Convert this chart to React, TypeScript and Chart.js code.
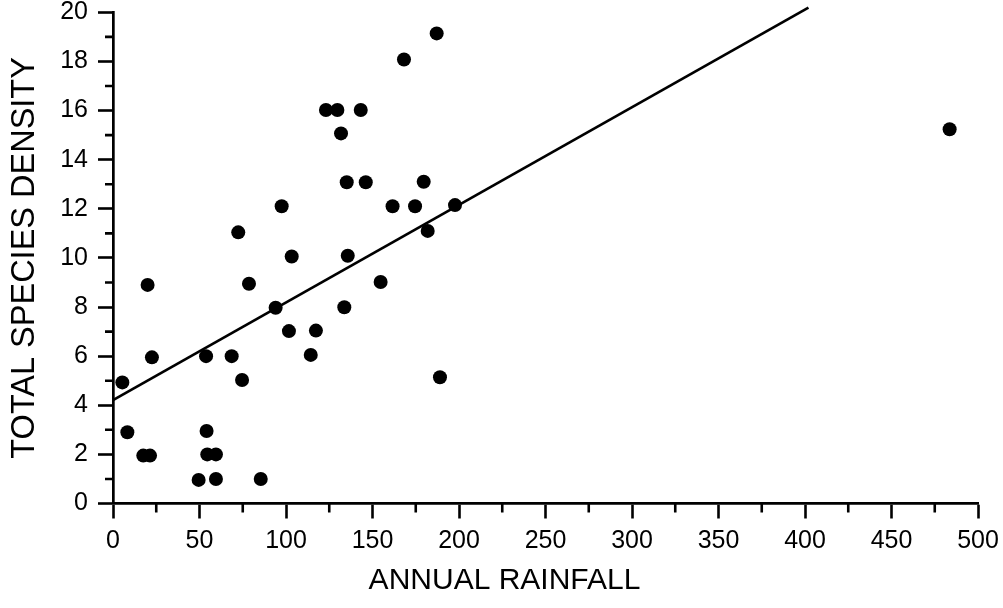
import React, { useEffect, useRef } from "react";
import { Chart, registerables } from "chart.js";

Chart.register(...registerables);

const rainfall = [
  5.4, 8.3, 17.5, 21.4, 20, 22.5, 49.5, 53.8, 54.1, 54.5, 59.5, 59.5, 68.6, 72.4,
  74.6, 78.6, 85.4, 94, 97.5, 101.7, 103.3, 114.3, 117.3, 123.1, 129.7, 131.8,
  133.7, 135.1, 135.7, 143.2, 146.1, 154.7, 161.6, 168.2, 174.6, 179.6, 181.9,
  187.1, 189, 197.7, 483.6,
];
const density = [
  4.93, 2.9, 1.95, 1.95, 8.9, 5.95, 0.96, 6, 2.95, 2, 2, 1, 6, 11.04, 5.03, 8.95,
  1, 7.97, 12.1, 7.02, 10.06, 6.05, 7.04, 16.02, 16.02, 15.07, 7.99, 13.08,
  10.09, 16.02, 13.08, 9.02, 12.1, 18.08, 12.1, 13.1, 11.1, 19.14, 5.14, 12.15,
  15.24,
];
const fitX = [0, 402];
const fitY = [4.21, 20.19];

const xMinorTicks = [25, 75, 125, 175, 225, 275, 325, 375, 425, 475];
const yMinorTicks = [1, 3, 5, 7, 9, 11, 13, 15, 17, 19];

const xTitle = "ANNUAL RAINFALL";
const yTitle = "TOTAL SPECIES DENSITY";

const FONT = "'Liberation Sans', Arial, Helvetica, sans-serif";

const minorTickPlugin = {
  id: "minorTicks",
  afterDraw(chart: any) {
    const ctx = chart.ctx;
    const xs = chart.scales.x;
    const ys = chart.scales.y;
    ctx.save();
    ctx.strokeStyle = "#000";
    ctx.lineWidth = 2.6;
    ctx.beginPath();
    xMinorTicks.forEach((v) => {
      const px = xs.getPixelForValue(v);
      ctx.moveTo(px, xs.top);
      ctx.lineTo(px, xs.top + 9);
    });
    yMinorTicks.forEach((v) => {
      const py = ys.getPixelForValue(v);
      ctx.moveTo(ys.right, py);
      ctx.lineTo(ys.right - 8, py);
    });
    ctx.stroke();
    ctx.restore();
  },
};

const bottomTitlePlugin = {
  id: "bottomTitle",
  afterDraw(chart: any) {
    const ctx = chart.ctx;
    ctx.save();
    ctx.fillStyle = "#000";
    ctx.font = `30px ${FONT}`;
    ctx.textAlign = "center";
    ctx.textBaseline = "middle";
    ctx.fillText(xTitle, chart.width / 2 + 3, 581);
    ctx.restore();
  },
};

export default function App() {
  const ref = useRef<HTMLCanvasElement | null>(null);

  useEffect(() => {
    if (!ref.current) return;
    const chart = new Chart(ref.current, {
      type: "scatter",
      data: {
        datasets: [
          {
            type: "scatter",
            label: "Sites",
            data: rainfall.map((x, i) => ({ x, y: density[i] })),
            backgroundColor: "#000",
            borderColor: "#000",
            pointRadius: 7,
            pointHoverRadius: 7,
            borderWidth: 0,
          },
          {
            type: "line",
            label: "Fit",
            data: fitX.map((x, i) => ({ x, y: fitY[i] })),
            borderColor: "#000",
            borderWidth: 2.7,
            pointRadius: 0,
            fill: false,
            clip: false as any,
          } as any,
        ],
      },
      options: {
        responsive: false,
        animation: false,
        layout: { padding: 0 },
        plugins: {
          legend: { display: false },
          tooltip: { enabled: false },
          title: { display: false },
        },
        scales: {
          x: {
            type: "linear",
            min: 0,
            max: 500,
            afterFit(scale: any) {
              scale.height = 104.5;
              scale.paddingLeft = 0;
              scale.paddingRight = 25;
            },
            ticks: {
              stepSize: 50,
              color: "#000",
              padding: 8,
              font: { family: FONT, size: 25 },
              maxRotation: 0,
            },
            grid: {
              drawOnChartArea: false,
              drawTicks: true,
              tickLength: 15,
              tickColor: "#000",
              tickWidth: 2.6,
            },
            border: { display: true, color: "#000", width: 2.7 },
          },
          y: {
            type: "linear",
            min: 0,
            max: 20,
            afterFit(scale: any) {
              scale.width = 113;
              scale.paddingTop = 12.3;
              scale.paddingBottom = 0;
            },
            ticks: {
              stepSize: 2,
              color: "#000",
              padding: 10,
              font: { family: FONT, size: 25 },
            },
            grid: {
              drawOnChartArea: false,
              drawTicks: true,
              tickLength: 15,
              tickColor: "#000",
              tickWidth: 2.6,
            },
            border: { display: true, color: "#000", width: 2.7 },
            title: {
              display: true,
              text: yTitle,
              color: "#000",
              font: { family: FONT, size: 32.5, weight: "normal" },
              padding: { top: 6, bottom: 0 },
            },
          },
        },
      },
      plugins: [minorTickPlugin, bottomTitlePlugin],
    });
    return () => chart.destroy();
  }, []);

  return (
    <div style={{ position: "fixed", left: 0, top: 0, width: 1003, height: 608, background: "#fff" }}>
      <canvas ref={ref} width={1003} height={608} />
    </div>
  );
}
